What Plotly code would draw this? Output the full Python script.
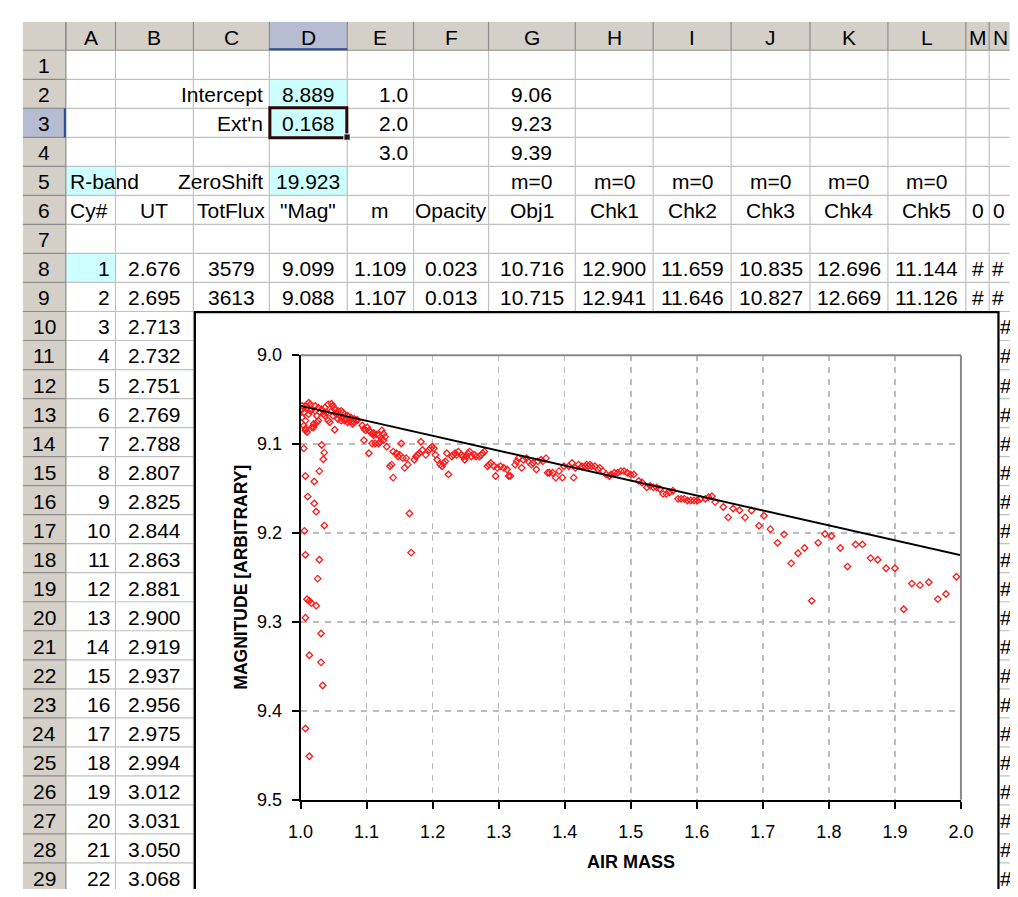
import plotly.graph_objects as go

# ---------------- data ----------------
column_letters = ["A", "B", "C", "D", "E", "F", "G", "H", "I", "J", "K", "L", "M", "N"]
row_numbers = list(range(1, 30))

param_names = ["Intercept", "Ext'n", "ZeroShift"]      # C2, C3, C5
param_values = ["8.889", "0.168", "19.923"]             # D2, D3, D5
fit_airmass = [1.0, 2.0, 3.0]                           # E2:E4
fit_magnitude = [9.057, 9.225, 9.393]                   # G2:G4 (fit line)
fit_magnitude_text = ["9.06", "9.23", "9.39"]
band_name = "R-band"
zero_flags = ["m=0", "m=0", "m=0", "m=0", "m=0", "m=0"]  # G5:L5
column_titles = ["Cy#", "UT", "TotFlux", "\"Mag\"", "m", "Opacity", "Obj1",
                 "Chk1", "Chk2", "Chk3", "Chk4", "Chk5", "0", "0"]
row8_values = ["1", "2.676", "3579", "9.099", "1.109", "0.023", "10.716",
               "12.900", "11.659", "10.835", "12.696", "11.144", "#", "#"]
row9_values = ["2", "2.695", "3613", "9.088", "1.107", "0.013", "10.715",
               "12.941", "11.646", "10.827", "12.669", "11.126", "#", "#"]
cycle_numbers = [3, 4, 5, 6, 7, 8, 9, 10, 11, 12, 13, 14, 15, 16, 17, 18, 19, 20, 21, 22]
ut_hours = ["2.713", "2.732", "2.751", "2.769", "2.788", "2.807", "2.825", "2.844",
            "2.863", "2.881", "2.900", "2.919", "2.937", "2.956", "2.975", "2.994",
            "3.012", "3.031", "3.050", "3.068"]

# scatter: air mass vs. magnitude
outlier_airmass = [1.0074, 1.0207, 1.0285, 1.0108, 1.0207, 1.0236, 1.0360, 1.0059, 1.0074, 1.0285,
                   1.0260, 1.0098, 1.0133, 1.0163, 1.0236, 1.0074, 1.0310, 1.0133, 1.0310, 1.0335,
                   1.0074, 1.0133, 1.0050, 1.0320, 1.0345, 1.0360]
outlier_mag = [9.1359, 9.1420, 9.1304, 9.1590, 9.1667, 9.1760, 9.1916, 9.1975, 9.2245, 9.2300,
               9.2513, 9.2744, 9.2762, 9.2788, 9.2817, 9.2953, 9.3130, 9.3374, 9.3454, 9.3714,
               9.4198, 9.4510, 9.1048, 9.1010, 9.1170, 9.1096]

cluster_airmass = [1.0123, 1.0148, 1.0074, 1.0222, 1.0271, 1.0320, 1.0369, 1.0419, 1.0468, 1.0492,
                   1.0517, 1.0566, 1.0615, 1.0640, 1.0665, 1.0714, 1.0763, 1.0812, 1.0837, 1.0862,
                   1.0025, 1.0049, 1.0025, 1.0074, 1.0049, 1.0074, 1.0098, 1.0172, 1.0197, 1.0246,
                   1.0271, 1.0419, 1.0443, 1.0517, 1.0714, 1.0763, 1.0788, 1.0025, 1.0098, 1.0172,
                   1.0222, 1.0295, 1.0345, 1.0394, 1.0468, 1.0542, 1.0591, 1.0640, 1.0689, 1.0738,
                   1.0812, 1.0369, 1.0123, 1.0148, 1.0246, 1.0566, 1.0615, 1.0665, 1.0492, 1.0074,
                   1.0197]
cluster_mag = [9.0535, 9.0553, 9.0571, 9.0571, 9.0590, 9.0608, 9.0590, 9.0553, 9.0546, 9.0571,
               9.0608, 9.0626, 9.0626, 9.0645, 9.0663, 9.0681, 9.0700, 9.0718, 9.0729, 9.0729,
               9.0608, 9.0645, 9.0700, 9.0736, 9.0791, 9.0828, 9.0864, 9.0810, 9.0773, 9.0755,
               9.0736, 9.0736, 9.0755, 9.0839, 9.0755, 9.0755, 9.0773, 9.0571, 9.0590, 9.0608,
               9.0626, 9.0645, 9.0663, 9.0645, 9.0626, 9.0663, 9.0681, 9.0700, 9.0718, 9.0736,
               9.0755, 9.0681, 9.0663, 9.0626, 9.0681, 9.0718, 9.0736, 9.0736, 9.0681, 9.0846,
               9.0810]

mid_airmass = [1.0935, 1.0960, 1.0985, 1.1009, 1.1034, 1.1059, 1.1083, 1.1108, 1.1108, 1.1157,
               1.1182, 1.1231, 1.1256, 1.1280, 1.0960, 1.1034, 1.1083, 1.1132, 1.1182, 1.1206,
               1.1256, 1.1305, 1.1354, 1.1379, 1.1403, 1.1403, 1.1452, 1.1477, 1.1502, 1.1526,
               1.1551, 1.1576, 1.1600, 1.1625, 1.1649, 1.1674, 1.1723, 1.1748, 1.1773, 1.1797,
               1.1822, 1.1846, 1.1896, 1.1945, 1.1969, 1.1994, 1.2019, 1.2043, 1.2068, 1.2117,
               1.2142, 1.2166, 1.2191, 1.2240, 1.2216, 1.2290, 1.2314, 1.2339, 1.2363, 1.2388,
               1.2437, 1.2462, 1.2486, 1.2511, 1.2536, 1.2560, 1.2585, 1.2634, 1.2659, 1.2708,
               1.2733, 1.2757, 1.2782, 1.2831, 1.2856, 1.2880, 1.2930, 1.2954, 1.2979, 1.3028,
               1.3077, 1.3127, 1.3151, 1.3176, 1.3250, 1.3274, 1.3299, 1.3348, 1.3373, 1.3422,
               1.3447, 1.3496, 1.3520, 1.3570, 1.3594, 1.3643, 1.3668, 1.3717, 1.3742, 1.3767,
               1.3816, 1.3865, 1.3914, 1.3964, 1.3988, 1.4062, 1.4111, 1.4136, 1.4160, 1.4210,
               1.4259, 1.4308, 1.4333, 1.4357, 1.4382, 1.4407, 1.4456, 1.4505, 1.4530, 1.4579,
               1.4628, 1.4677, 1.4702, 1.4751, 1.4801, 1.4850, 1.4899, 1.4948, 1.4997, 1.5047]
mid_mag = [9.0791, 9.0828, 9.0846, 9.0810, 9.0846, 9.0864, 9.0883, 9.0901, 9.0875, 9.0890,
           9.0901, 9.0846, 9.0883, 9.0919, 9.0956, 9.1103, 9.0993, 9.0993, 9.0993, 9.0974,
           9.0956, 9.1029, 9.1249, 9.1231, 9.1377, 9.1084, 9.1103, 9.1139, 9.1121, 9.0993,
           9.1158, 9.1267, 9.1158, 9.1231, 9.1780, 9.2220, 9.1176, 9.1139, 9.1121, 9.1103,
           9.0974, 9.1066, 9.1121, 9.1066, 9.1048, 9.1029, 9.1048, 9.1121, 9.1176, 9.1231,
           9.1249, 9.1212, 9.1194, 9.1341, 9.1103, 9.1139, 9.1121, 9.1103, 9.1121, 9.1084,
           9.1121, 9.1139, 9.1176, 9.1139, 9.1103, 9.1084, 9.1139, 9.1121, 9.1139, 9.1139,
           9.1121, 9.1103, 9.1084, 9.1249, 9.1231, 9.1212, 9.1249, 9.1359, 9.1267, 9.1249,
           9.1267, 9.1286, 9.1359, 9.1359, 9.1231, 9.1194, 9.1158, 9.1267, 9.1176, 9.1158,
           9.1194, 9.1231, 9.1212, 9.1286, 9.1194, 9.1176, 9.1194, 9.1158, 9.1322, 9.1322,
           9.1322, 9.1377, 9.1304, 9.1377, 9.1249, 9.1249, 9.1212, 9.1377, 9.1267, 9.1231,
           9.1249, 9.1249, 9.1231, 9.1249, 9.1231, 9.1249, 9.1249, 9.1286, 9.1267, 9.1304,
           9.1341, 9.1359, 9.1341, 9.1322, 9.1322, 9.1304, 9.1304, 9.1322, 9.1341, 9.1341]

far_airmass = [1.5121, 1.5170, 1.5244, 1.5293, 1.5342, 1.5392, 1.5441, 1.5490, 1.5539, 1.5589,
               1.5638, 1.5716, 1.5761, 1.5810, 1.5859, 1.5909, 1.5958, 1.6007, 1.6056, 1.6130,
               1.6179, 1.6229, 1.6278, 1.6401, 1.6475, 1.6549, 1.6647, 1.6731, 1.6829, 1.6942,
               1.7016, 1.7115, 1.7223, 1.7322, 1.7430, 1.7533, 1.7632, 1.7838, 1.7942, 1.8040,
               1.8173, 1.8282, 1.8405, 1.8508, 1.8631, 1.8739, 1.8867, 1.9000, 1.9256, 1.9380,
               1.9513, 1.9773, 1.9931, 1.7740, 1.9133, 1.9650]
far_mag = [9.1414, 9.1432, 9.1487, 9.1469, 9.1487, 9.1487, 9.1505, 9.1560, 9.1560, 9.1542,
           9.1524, 9.1615, 9.1615, 9.1615, 9.1634, 9.1634, 9.1634, 9.1634, 9.1615, 9.1615,
           9.1597, 9.1586, 9.1652, 9.1707, 9.1824, 9.1725, 9.1744, 9.1824, 9.1747, 9.1919,
           9.1806, 9.1956, 9.2110, 9.2015, 9.2341, 9.2227, 9.2168, 9.2110, 9.2011, 9.2033,
           9.2168, 9.2377, 9.2128, 9.2128, 9.2282, 9.2300, 9.2396, 9.2396, 9.2568, 9.2586,
           9.2553, 9.2685, 9.2491, 9.2762, 9.2857, 9.2743]

air_mass = outlier_airmass + cluster_airmass + mid_airmass + far_airmass
magnitude = outlier_mag + cluster_mag + mid_mag + far_mag
assert len(air_mass) == len(magnitude)

x_axis_title = "AIR MASS"
y_axis_title = "MAGNITUDE [ARBITRARY]"

# ---------------- geometry / style ----------------
SCREEN_W, SCREEN_H = 1018, 897
OFF = 8                      # default page margin of the browser body
W, H = SCREEN_W - 2 * OFF, SCREEN_H - 2 * OFF
FONT = "Arial, Liberation Sans, sans-serif"
CELL_FS = 21
col_edges = [54, 105, 185, 263, 343, 411, 488, 577, 657, 737, 818, 898, 978, 1002, 1040]
HDR_TOP, HDR_BOT = 12, 41
ROW_H = 29.7
HDR_GRAY = "#d4d0c8"
SEL_BLUE = "#b6bdd2"
CYAN = "#ccffff"
GRID = "#c0c0c0"

def fx(x):  # screen pixel -> paper fraction
    return (x - OFF) / W

def fy(y):
    return 1 - (y - OFF) / H

def row_top(n):
    return HDR_BOT + (n - 1) * ROW_H

def row_mid(n):
    return row_top(n) + ROW_H / 2 + 1

shapes = []
annotations = []

def rect(x0, y0, x1, y1, fill=None, line_color=None, lw=0, layer="below"):
    shapes.append(dict(type="rect", xref="paper", yref="paper",
                       x0=fx(x0), x1=fx(x1), y0=fy(y0), y1=fy(y1),
                       fillcolor=fill or "rgba(0,0,0,0)",
                       line=dict(color=line_color or "rgba(0,0,0,0)", width=lw),
                       layer=layer))

def seg(x0, y0, x1, y1, color, lw=1, layer="below"):
    shapes.append(dict(type="line", xref="paper", yref="paper",
                       x0=fx(x0), x1=fx(x1), y0=fy(y0), y1=fy(y1),
                       line=dict(color=color, width=lw), layer=layer))

def text_at(x, y, text, xanchor="center", size=CELL_FS, bold=False, angle=0):
    annotations.append(dict(x=fx(x), y=fy(y), xref="paper", yref="paper",
                            text=("<b>%s</b>" % text) if bold else text,
                            showarrow=False, xanchor=xanchor, yanchor="middle",
                            textangle=angle,
                            font=dict(family=FONT, size=size, color="black")))

def cell(col, row, text, align="center"):
    l, r = col_edges[col], col_edges[col + 1]
    if align == "center":
        text_at((l + r) / 2, row_mid(row), text, "center")
    elif align == "right":
        text_at(r - 4, row_mid(row), text, "right")
    else:
        text_at(l + 2, row_mid(row), text, "left")

# ---------------- spreadsheet background ----------------
rect(10, HDR_TOP, SCREEN_W + 5, HDR_BOT, fill=HDR_GRAY)
rect(10, HDR_BOT, 54, SCREEN_H + 5, fill=HDR_GRAY)
rect(col_edges[3], HDR_TOP, col_edges[4], HDR_BOT, fill=SEL_BLUE)
rect(10, row_top(3), 54, row_top(4), fill=SEL_BLUE)
for (c, r) in [(0, 5), (3, 2), (3, 3), (3, 5), (0, 8)]:
    rect(col_edges[c], row_top(r), col_edges[c + 1], row_top(r + 1), fill=CYAN)
for e in col_edges[1:]:
    seg(e, HDR_BOT, e, SCREEN_H + 5, GRID, 1.2)
for n in row_numbers:
    seg(54, row_top(n + 1), SCREEN_W + 5, row_top(n + 1), GRID, 1.2)
for e in col_edges:
    seg(e, HDR_TOP, e, HDR_BOT, "#8c8c8c", 1.2)
for n in row_numbers:
    seg(10, row_top(n + 1), 54, row_top(n + 1), "#8c8c8c", 1.2)
seg(10, HDR_BOT, SCREEN_W + 5, HDR_BOT, "#8c8c8c", 1.2)
seg(54, HDR_TOP, 54, SCREEN_H + 5, "#8c8c8c", 1.2)
seg(col_edges[3], HDR_BOT - 1, col_edges[4], HDR_BOT - 1, "#2a4a9a", 2)
seg(53, row_top(3), 53, row_top(4), "#2a4a9a", 2)
rect(col_edges[3] + 0.5, row_top(3) - 0.5, col_edges[4] - 0.5, row_top(4) + 0.5,
     line_color="#2a0808", lw=3)
rect(col_edges[4] - 3.5, row_top(4) - 3.5, col_edges[4] + 3, row_top(4) + 3,
     fill="#1a1a1a", line_color="white", lw=1)

# ---------------- spreadsheet text ----------------
for i, letter in enumerate(column_letters):
    l, r = col_edges[i], col_edges[i + 1]
    cx = (l + r) / 2 if letter != "N" else 1014
    text_at(cx, (HDR_TOP + HDR_BOT) / 2 + 1, letter)
for n in row_numbers:
    text_at(32, row_mid(n), str(n))

cell(2, 2, param_names[0], "right")
cell(2, 3, param_names[1], "right")
cell(2, 5, param_names[2], "right")
cell(3, 2, param_values[0])
cell(3, 3, param_values[1])
cell(3, 5, param_values[2])
for k in range(3):
    cell(4, 2 + k, "%.1f" % fit_airmass[k], "right")
    cell(6, 2 + k, fit_magnitude_text[k])
cell(0, 5, band_name, "left")
for k, flag in enumerate(zero_flags):
    cell(6 + k, 5, flag)
for k, title in enumerate(column_titles):
    if k == 0:
        cell(0, 6, title, "left")
    elif k == 13:
        text_at(col_edges[13] + 2, row_mid(6), title, "left")
    else:
        cell(k, 6, title)
for row, vals in [(8, row8_values), (9, row9_values)]:
    for k, v in enumerate(vals):
        if k == 0:
            cell(0, row, v, "right")
        elif k == 13:
            text_at(col_edges[13] + 1, row_mid(row), v, "left")
        else:
            cell(k, row, v)
for k in range(len(cycle_numbers)):
    row = 10 + k
    cell(0, row, str(cycle_numbers[k]), "right")
    cell(1, row, ut_hours[k])
    text_at(1011, row_mid(row), "#", "left")

# ---------------- embedded chart ----------------
rect(186.5, 309, 1011.5, SCREEN_H + 10, fill="white", line_color="black", lw=2.2)
PX0, PX1, PY0, PY1 = 295, 973, 353, 808
seg(PX0, PY0, PX1, PY0, "#8a8a8a", 2, layer="above")
seg(PX1, PY0, PX1, PY1, "#8a8a8a", 2, layer="above")

text_at((PX0 + PX1) / 2, 872, x_axis_title, size=18, bold=True)
text_at(233, (PY0 + PY1) / 2, y_axis_title, size=17.5, bold=True, angle=-90)

fig = go.Figure()
fig.add_trace(go.Scatter(
    x=air_mass, y=magnitude, mode="markers",
    marker=dict(symbol="diamond-open", size=5, color="#ff1a1a", line=dict(width=1.3)),
    showlegend=False, hoverinfo="skip"))
fig.add_trace(go.Scatter(
    x=fit_airmass, y=fit_magnitude, mode="lines",
    line=dict(color="black", width=2), showlegend=False, hoverinfo="skip"))

axis_common = dict(
    showgrid=True, gridcolor="#bcbcbc", gridwidth=1.5, griddash="6px,6px",
    showline=True, linecolor="black", linewidth=2,
    ticks="outside", ticklen=7, tickwidth=2, tickcolor="black",
    tickfont=dict(family=FONT, size=18, color="black"),
    zeroline=False, fixedrange=True, dtick=0.1, tickformat=".1f",
)
fig.update_layout(
    width=W, height=H, margin=dict(l=0, r=0, t=0, b=0),
    paper_bgcolor="white", plot_bgcolor="white", showlegend=False,
    xaxis=dict(domain=[fx(PX0), fx(PX1)], range=[1.0, 2.0], tick0=1.0,
               ticklabelstandoff=8, **axis_common),
    yaxis=dict(domain=[fy(PY1), fy(PY0)], range=[9.5, 9.0], tick0=9.0,
               ticklabelstandoff=6, **axis_common),
    shapes=shapes, annotations=annotations,
)

fig.write_html("out.html", config={"displayModeBar": False, "staticPlot": True})
